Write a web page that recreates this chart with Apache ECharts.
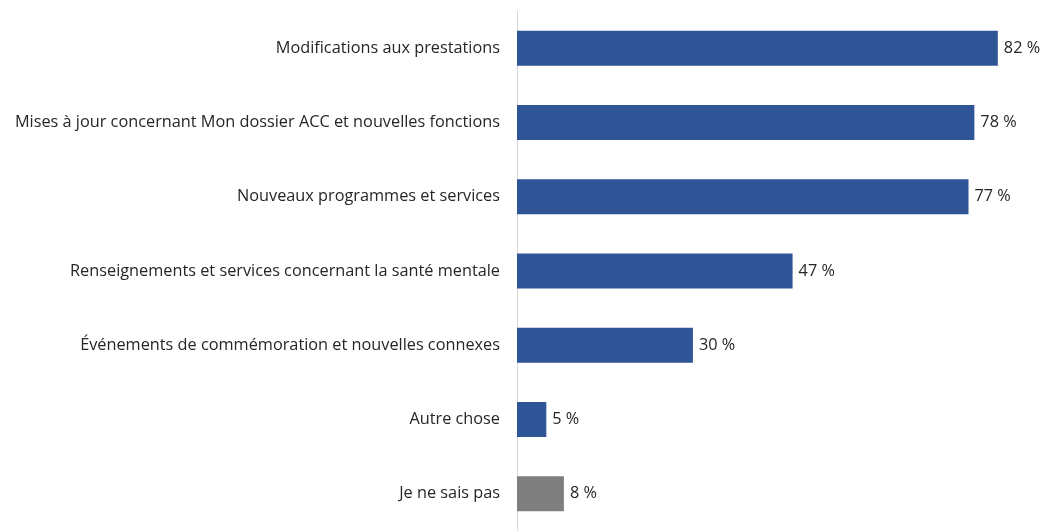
<!DOCTYPE html>
<html>
<head>
<meta charset="utf-8">
<script src="https://cdn.jsdelivr.net/npm/echarts@6/dist/echarts.min.js"></script>
<style>
  html, body { margin: 0; padding: 0; background: #fff; }
  #chart { width: 1045px; height: 531px; }
</style>
</head>
<body>
<div id="chart"></div>
<script>
// Topics, listed top to bottom
const categories = [
  'Modifications aux prestations',
  'Mises à jour concernant Mon dossier ACC et nouvelles fonctions',
  'Nouveaux programmes et services',
  'Renseignements et services concernant la santé mentale',
  'Événements de commémoration et nouvelles connexes',
  'Autre chose',
  'Je ne sais pas'
];
// Share of respondents (%)
const values = [82, 78, 77, 47, 30, 5, 8];
// The last category ("don't know") is drawn in grey
const greyCategories = ['Je ne sais pas'];

const BLUE = '#2f5597';
const GREY = '#7f7f7f';
const FONT = 'Open Sans';
const FONT_SIZE = 16.3;

const chart = echarts.init(document.getElementById('chart'));

chart.setOption({
  animation: false,
  grid: { left: 517, right: 12, top: 11, bottom: 0, containLabel: false },
  xAxis: {
    type: 'value',
    min: 0,
    max: 88,
    show: false
  },
  yAxis: {
    type: 'category',
    inverse: true,
    data: categories,
    axisLine: { show: true, lineStyle: { color: '#d9d9d9', width: 1 } },
    axisTick: { show: false },
    axisLabel: {
      margin: 17,
      color: '#262626',
      fontFamily: FONT,
      fontSize: FONT_SIZE
    }
  },
  series: [{
    type: 'bar',
    barWidth: 35,
    data: values.map((v, i) => ({
      value: v,
      itemStyle: { color: greyCategories.includes(categories[i]) ? GREY : BLUE }
    })),
    label: {
      show: true,
      position: 'right',
      distance: 6,
      color: '#262626',
      fontFamily: FONT,
      fontSize: FONT_SIZE,
      formatter: p => p.value + ' %'
    }
  }]
});
</script>
</body>
</html>
